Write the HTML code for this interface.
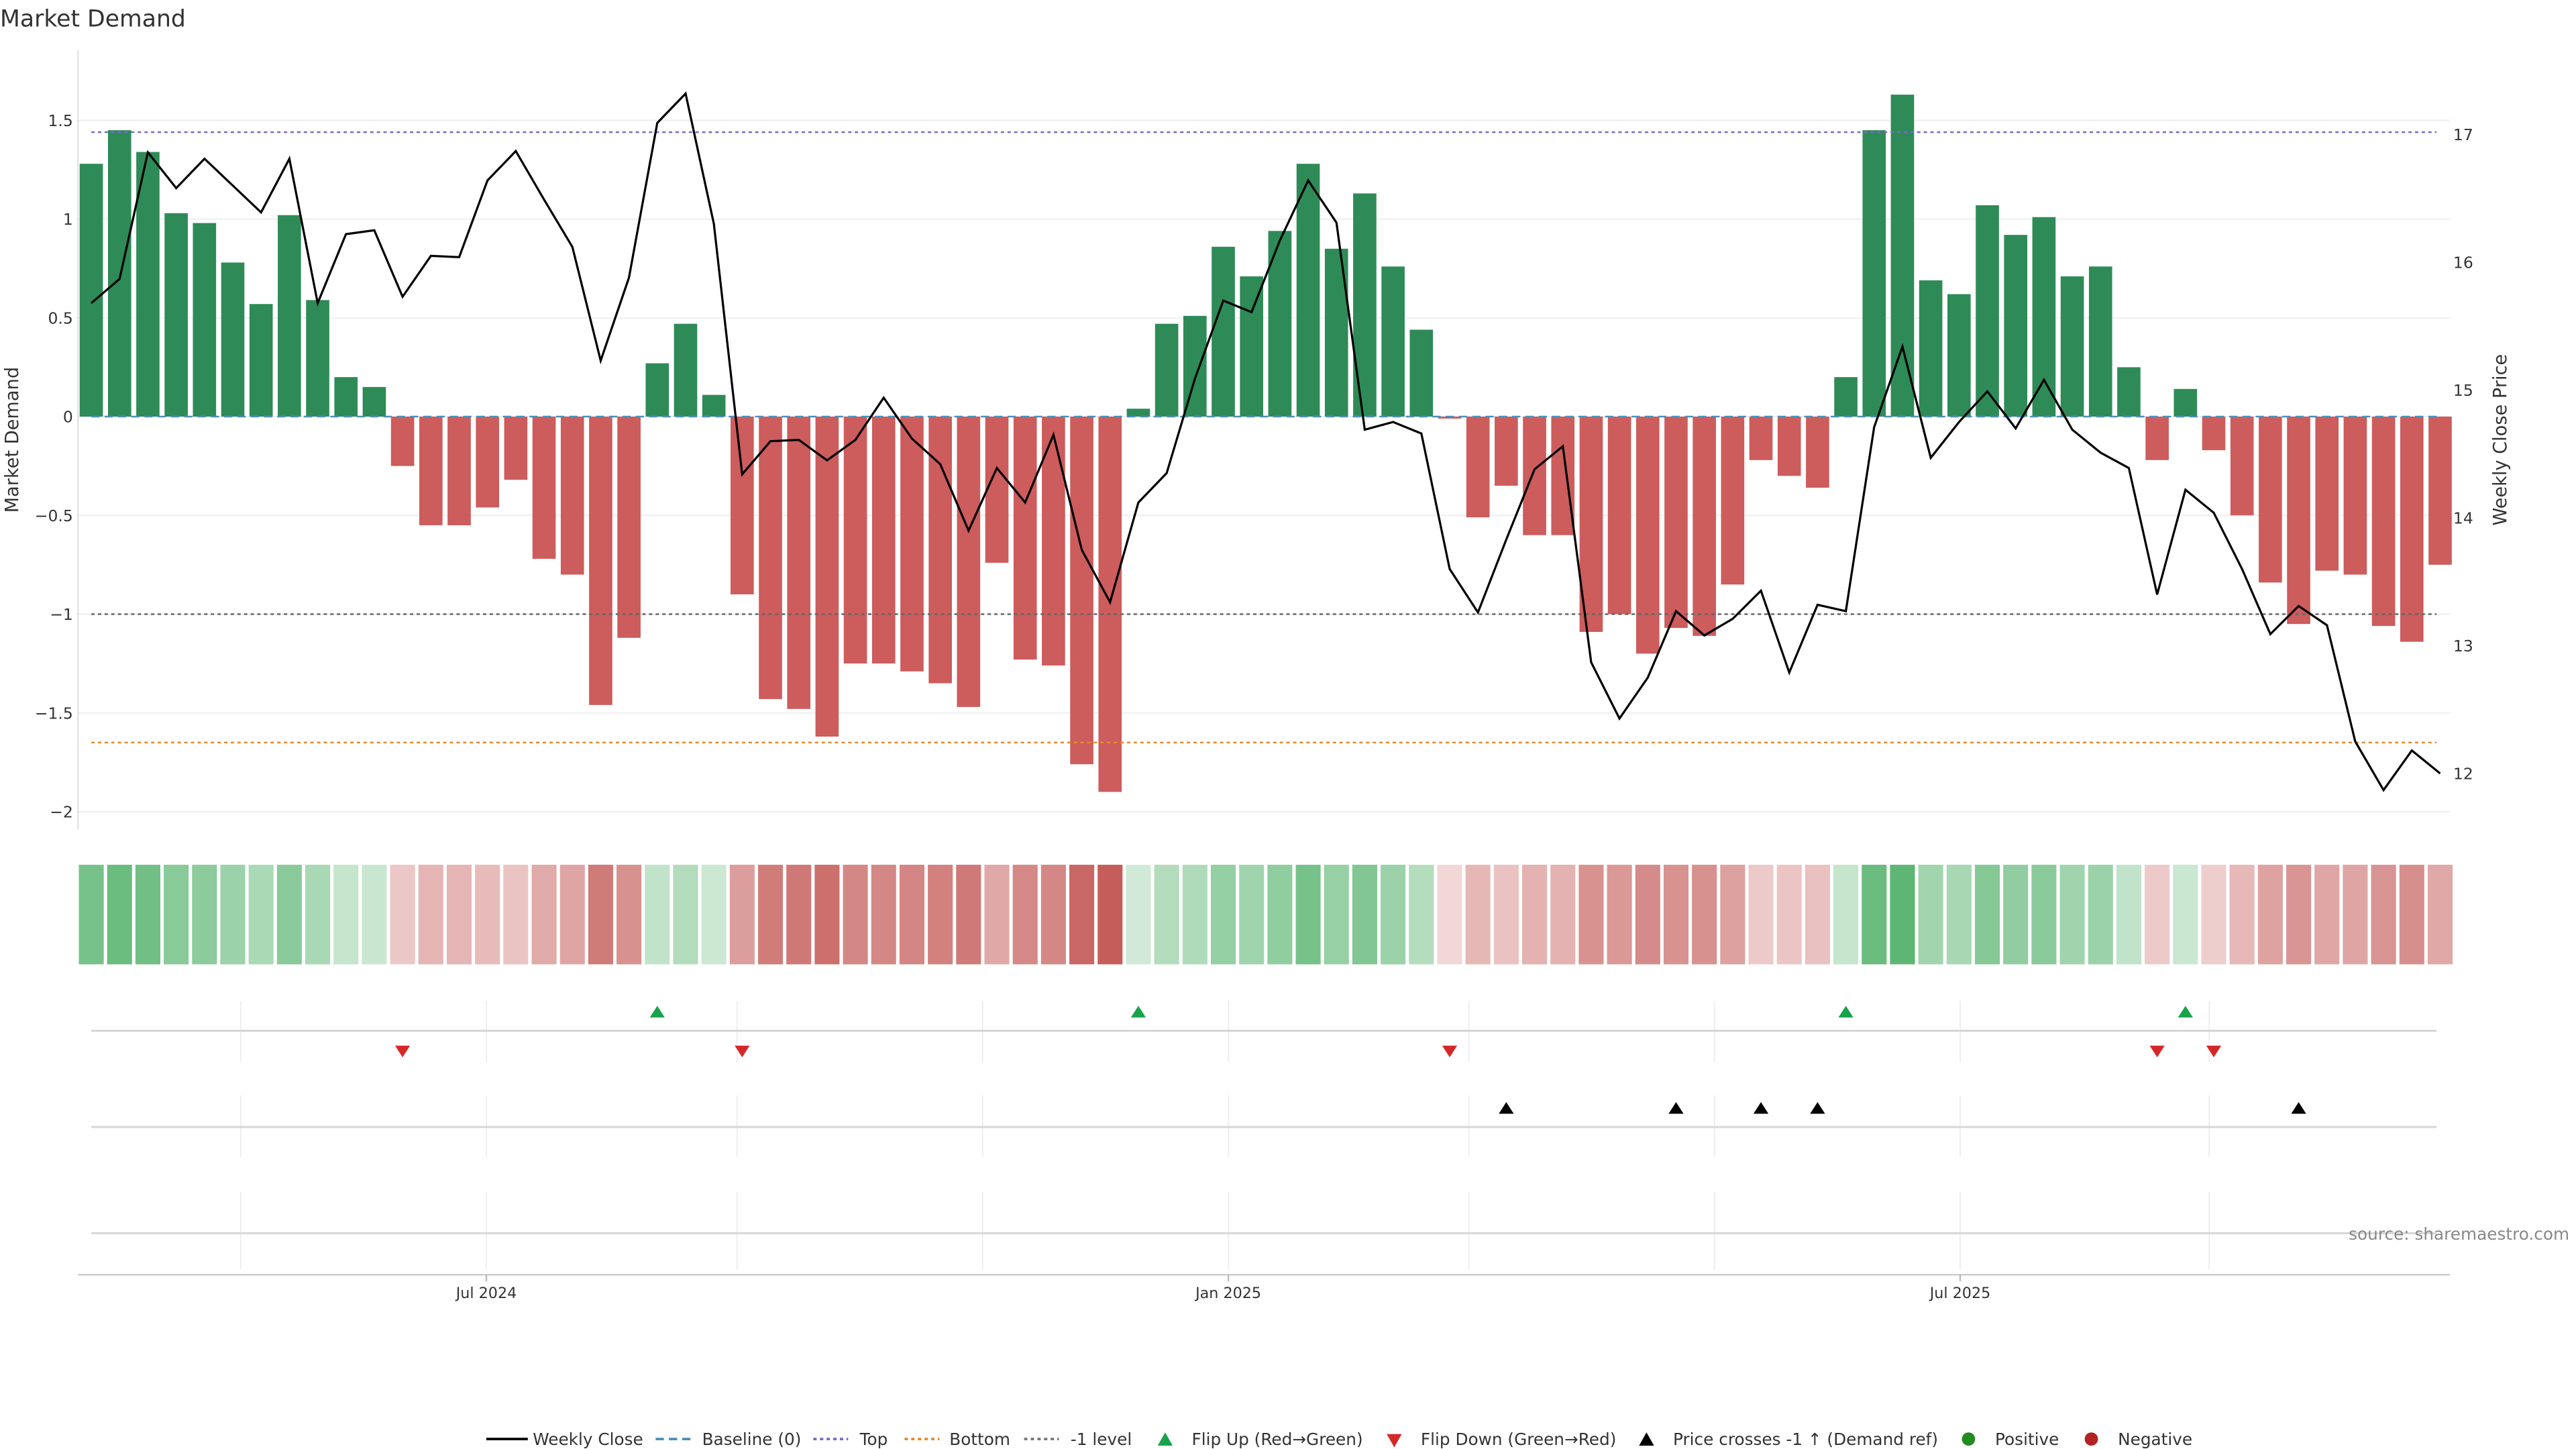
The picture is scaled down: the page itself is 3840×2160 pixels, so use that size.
<!DOCTYPE html>
<html><head><meta charset="utf-8"><style>
html,body{margin:0;padding:0;background:#fff}
svg{display:block}
text{font-family:"DejaVu Sans","Liberation Sans",sans-serif;fill:#333}
</style></head><body>
<svg id="chart" width="3840" height="2160" viewBox="0 0 1552 873" xmlns="http://www.w3.org/2000/svg">
<text x="0" y="16" font-size="14">Market Demand</text>
<g id="grid"></g><g id="bars"></g><g id="lines"></g><g id="strip"></g><g id="markers"></g><g id="axes"></g>
<text x="1548" y="747" font-size="10" text-anchor="end" style="fill:#888">source: sharemaestro.com</text>
<g id="legend"></g>
</svg>
<script>
const demand=[1.28,1.45,1.34,1.03,0.98,0.78,0.57,1.02,0.59,0.20,0.15,-0.25,-0.55,-0.55,-0.46,-0.32,-0.72,-0.80,-1.46,-1.12,0.27,0.47,0.11,-0.90,-1.43,-1.48,-1.62,-1.25,-1.25,-1.29,-1.35,-1.47,-0.74,-1.23,-1.26,-1.76,-1.90,0.04,0.47,0.51,0.86,0.71,0.94,1.28,0.85,1.13,0.76,0.44,-0.01,-0.51,-0.35,-0.60,-0.60,-1.09,-1.00,-1.20,-1.07,-1.11,-0.85,-0.22,-0.30,-0.36,0.20,1.45,1.63,0.69,0.62,1.07,0.92,1.01,0.71,0.76,0.25,-0.22,0.14,-0.17,-0.50,-0.84,-1.05,-0.78,-0.80,-1.06,-1.14,-0.75];
const price=[15.68,15.87,16.86,16.58,16.81,16.60,16.39,16.81,15.68,16.22,16.25,15.73,16.05,16.04,16.64,16.87,16.49,16.12,15.23,15.88,17.09,17.32,16.30,14.34,14.60,14.61,14.45,14.61,14.94,14.62,14.42,13.90,14.39,14.12,14.65,13.75,13.34,14.12,14.35,15.09,15.70,15.61,16.17,16.64,16.31,14.69,14.75,14.66,13.60,13.26,13.83,14.38,14.56,12.87,12.43,12.75,13.27,13.08,13.21,13.43,12.79,13.32,13.27,14.71,15.34,14.47,14.75,14.99,14.70,15.08,14.69,14.51,14.39,13.40,14.22,14.04,13.60,13.09,13.31,13.16,12.25,11.87,12.18,12.00];
const flipUp=[20,37,62,74];
const flipDown=[11,23,48,73,75];
const priceCross=[50,56,59,61,78];
const leftTicks=[1.5,1,0.5,0,-0.5,-1,-1.5,-2];
const leftTickLabels=["1.5","1","0.5","0","−0.5","−1","−1.5","−2"];
const rightTicks=[12,13,14,15,16,17];
const topLevel=1.44, bottomLevel=-1.65, minusOne=-1;
const gridIdx=[5.28,13.96,22.82,31.5,40.18,48.68,57.36,66.04,74.84];
const dateTickIdx=[13.96,40.18,66.04];
const dateTickLabels=["Jul 2024","Jan 2025","Jul 2025"];

const NS="http://www.w3.org/2000/svg";
function mk(parent,tag,attrs,txt){const e=document.createElementNS(NS,tag);for(const k in attrs)e.setAttribute(k,attrs[k]);if(txt!==undefined)e.textContent=txt;document.getElementById(parent).appendChild(e);return e;}
const xs=i=>55+i*17.05;
const yl=v=>251-v*119;
const yr=p=>81+(17-p)*77;

leftTicks.forEach((t,k)=>{
  const g=mk('grid','line',{x1:47,x2:1476,y1:yl(t),y2:yl(t),stroke:'#eee','stroke-width':0.8});
  
  
  const tl=mk('axes','text',{x:44,y:yl(t)+3.5,'font-size':9.5,'text-anchor':'end'},leftTickLabels[k]);
  
  
});
rightTicks.forEach(t=>{
  const tl=mk('axes','text',{x:1478,y:yr(t)+3.5,'font-size':9.5},String(t));
  
  
});
let e=mk('axes','line',{x1:47,x2:47,y1:30,y2:500,stroke:'#ddd','stroke-width':0.8});


e=mk('axes','text',{x:11,y:265,'font-size':11,'text-anchor':'middle',transform:'rotate(-90 11 265)'},'Market Demand');


e=mk('axes','text',{x:1510,y:265,'font-size':11,'text-anchor':'middle',transform:'rotate(-90 1510 265)'},'Weekly Close Price');



demand.forEach((v,i)=>{
  const y0=yl(0),y1=yl(v);
  const r=mk('bars','rect',{x:xs(i)-7,y:Math.min(y0,y1),width:14,height:Math.max(0.5,Math.abs(y1-y0)),fill:v>=0?'#2e8b57':'#cd5c5c'});
  
  
});
e=mk('lines','line',{x1:55,x2:1468,y1:yl(0),y2:yl(0),stroke:'#4a90b8','stroke-width':1,'stroke-dasharray':'5 3'});


e=mk('lines','line',{x1:55,x2:1468,y1:yl(topLevel),y2:yl(topLevel),stroke:'#7b68c8','stroke-width':1,'stroke-dasharray':'2 2'});


e=mk('lines','line',{x1:55,x2:1468,y1:yl(bottomLevel),y2:yl(bottomLevel),stroke:'#e8892b','stroke-width':1,'stroke-dasharray':'2 2'});


e=mk('lines','line',{x1:55,x2:1468,y1:yl(minusOne),y2:yl(minusOne),stroke:'#666','stroke-width':1,'stroke-dasharray':'2 2'});


e=mk('lines','polyline',{points:price.map((p,i)=>xs(i)+','+yr(p)).join(' '),fill:'none',stroke:'#000','stroke-width':1.3});



const maxA=Math.max(...demand.map(Math.abs));
demand.forEach((v,i)=>{
  const a=0.22+0.7*Math.abs(v)/maxA;
  const r=mk('strip','rect',{x:xs(i)-7.5,y:521,width:15,height:60,fill:v>=0?'#3aa655':'#c0504d','fill-opacity':a});
  
  
});

[[603,640,621],[660,697,679],[718,765,743]].forEach(([a,b,c])=>{
  gridIdx.forEach(g=>{const l=mk('markers','line',{x1:xs(g),x2:xs(g),y1:a,y2:b,stroke:'#eceef2','stroke-width':0.8});
    
    });
  const l=mk('markers','line',{x1:55,x2:1468,y1:c,y2:c,stroke:'#d6d6d6','stroke-width':1.2});
  
  
});
flipUp.forEach(i=>{const x=xs(i);const p=mk('markers','polygon',{points:`${x-4.5},613 ${x+4.5},613 ${x},606`,fill:'#17a34a'});
  
  });
flipDown.forEach(i=>{const x=xs(i);const p=mk('markers','polygon',{points:`${x-4.5},630 ${x+4.5},630 ${x},637`,fill:'#d62728'});
  
  });
priceCross.forEach(i=>{const x=xs(i);const p=mk('markers','polygon',{points:`${x-4.5},671 ${x+4.5},671 ${x},664`,fill:'#000'});
  
  });

e=mk('axes','line',{x1:47,x2:1476,y1:768,y2:768,stroke:'#ccc','stroke-width':1});


dateTickIdx.forEach((g,k)=>{
  const t=mk('axes','line',{x1:xs(g),x2:xs(g),y1:768,y2:772,stroke:'#bbb'});
  
  
  const tl=mk('axes','text',{x:xs(g),y:782,'font-size':9,'text-anchor':'middle'},dateTickLabels[k]);
  
  
});

const L=867;
function lt(x,t,name){const e=mk('legend','text',{x:x,y:L+3.5,'font-size':10},t);}
e=mk('legend','line',{x1:293,x2:318,y1:L,y2:L,stroke:'#000','stroke-width':1.5});


lt(321,'Weekly Close','legend-weekly-close');
e=mk('legend','line',{x1:395,x2:416,y1:L,y2:L,stroke:'#4a90b8','stroke-width':1.5,'stroke-dasharray':'5 3'});


lt(423,'Baseline (0)','legend-baseline');
e=mk('legend','line',{x1:490,x2:511,y1:L,y2:L,stroke:'#7b68c8','stroke-width':1.5,'stroke-dasharray':'2 2'});


lt(518,'Top','legend-top');
e=mk('legend','line',{x1:545,x2:566,y1:L,y2:L,stroke:'#e8892b','stroke-width':1.5,'stroke-dasharray':'2 2'});


lt(572,'Bottom','legend-bottom');
e=mk('legend','line',{x1:617,x2:638,y1:L,y2:L,stroke:'#777','stroke-width':1.5,'stroke-dasharray':'2 2'});


lt(645,'-1 level','legend-minus-one');
e=mk('legend','polygon',{points:'697.5,871 706.5,871 702,863',fill:'#17a34a'});


lt(718,'Flip Up (Red→Green)','legend-flip-up');
e=mk('legend','polygon',{points:'835.5,864 844.5,864 840,872',fill:'#d62728'});


lt(856,'Flip Down (Green→Red)','legend-flip-down');
e=mk('legend','polygon',{points:'987.5,871 996.5,871 992,863',fill:'#000'});


lt(1008,'Price crosses -1 ↑ (Demand ref)','legend-price-cross');
e=mk('legend','circle',{cx:1186,cy:L,r:4,fill:'#228b22'});


lt(1202,'Positive','legend-positive');
e=mk('legend','circle',{cx:1260,cy:L,r:4,fill:'#b22222'});


lt(1276,'Negative','legend-negative');
</script>
</body></html>
